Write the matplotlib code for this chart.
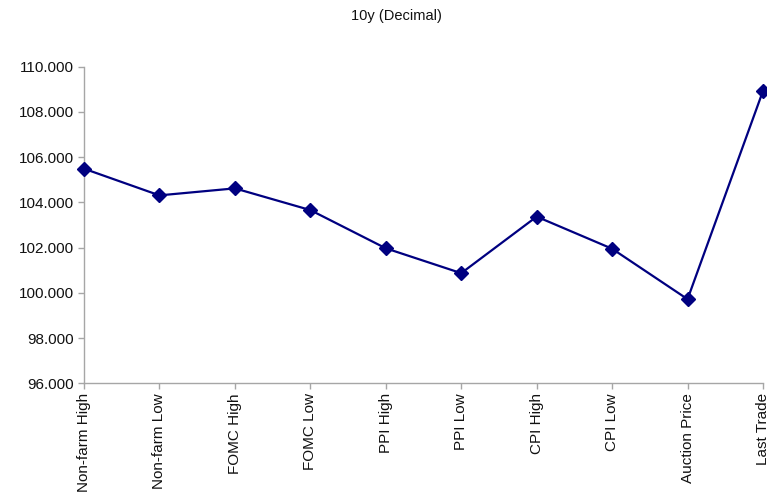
import matplotlib
matplotlib.use("Agg")
import matplotlib.pyplot as plt

categories = ["Non-farm High", "Non-farm Low", "FOMC High", "FOMC Low", "PPI High",
              "PPI Low", "CPI High", "CPI Low", "Auction Price", "Last Trade"]
values = [105.49, 104.31, 104.62, 103.66, 101.97, 100.87, 103.37, 101.95, 99.72, 108.93]
yticks = [96, 98, 100, 102, 104, 106, 108, 110]

plt.rcParams['font.family'] = ['Liberation Sans', 'DejaVu Sans']

fig = plt.figure(figsize=(7.67, 4.93), dpi=100)
ax = fig.add_axes([84/767, 1-383.3/493, (763-84)/767, (383.3-66.7)/493])

x = list(range(len(categories)))
ax.plot(x, values, color="#000080", linewidth=1.6, marker="D", markersize=7.5,
        markerfacecolor="#000080", markeredgecolor="#000080", clip_on=False, zorder=3)

ax.set_xlim(0, len(categories) - 1)
ax.set_ylim(96, 110)
ax.set_yticks(yticks)
ax.set_yticklabels([f"{v:.3f}" for v in yticks], fontsize=11, color="#111111")
ax.set_xticks(x)
ax.set_xticklabels(categories, rotation=90, fontsize=11, color="#111111")

for s in ["top", "right"]:
    ax.spines[s].set_visible(False)
for s in ["left", "bottom"]:
    ax.spines[s].set_color("#a6a6a6")
    ax.spines[s].set_linewidth(1.0)
ax.tick_params(axis="both", colors="#a6a6a6", length=4, width=1.0, labelcolor="#111111")
ax.tick_params(axis="x", pad=3)
ax.tick_params(axis="y", pad=3)

fig.text(396/767, 1-16/493, "10y (Decimal)", ha="center", va="center", fontsize=10.5, color="#111111")

fig.savefig("out.png", dpi=100)
